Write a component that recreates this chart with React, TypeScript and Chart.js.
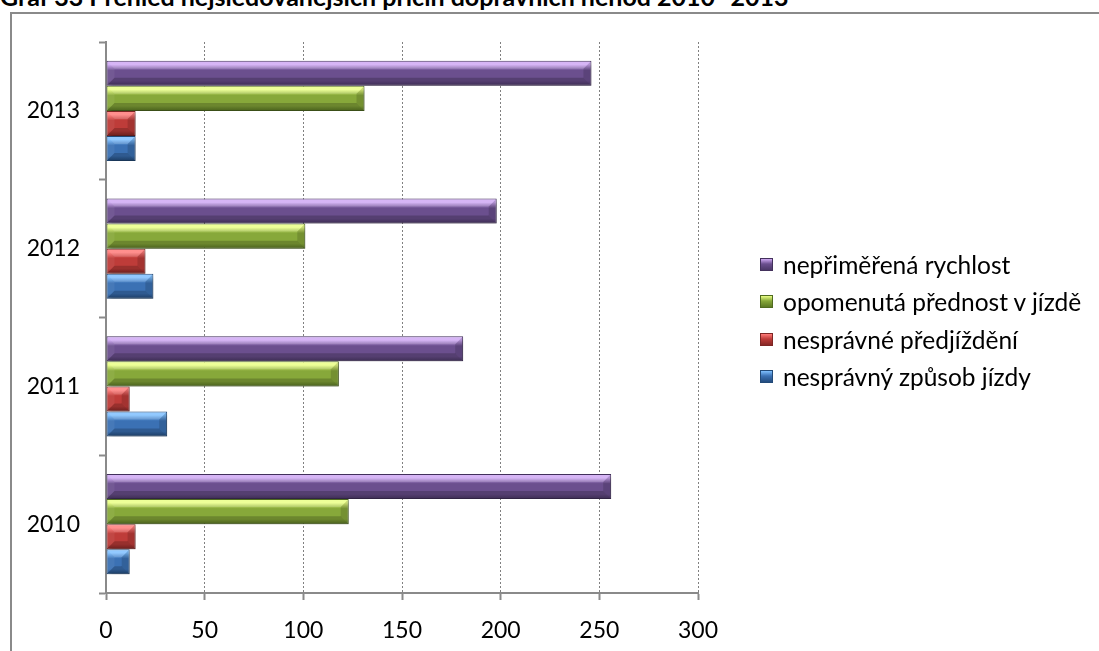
import React, { useEffect, useRef } from 'react';
import { Chart, registerables } from 'chart.js';

Chart.register(...registerables);

const TITLE = 'Graf 33 Přehled nejsledovanějších příčin dopravních nehod 2010 -2013';
const years = ['2010', '2011', '2012', '2013'];
// series in Excel order (first = bottom bar of each group)
const seriesNames = [
  'nesprávný způsob jízdy',
  'nesprávné předjíždění',
  'opomenutá přednost v jízdě',
  'nepřiměřená rychlost',
];
const nespravnyZpusobJizdy = [12, 31, 24, 15];
const nespravnePredjizdeni = [15, 12, 20, 15];
const opomenutaPrednost = [123, 118, 101, 131];
const neprimerenaRychlost = [256, 181, 198, 246];
const seriesValues = [nespravnyZpusobJizdy, nespravnePredjizdeni, opomenutaPrednost, neprimerenaRychlost];
const xMin = 0;
const xMax = 300;
const xStep = 50;

const palette = [
  { light: '#7fc0ff', main: '#3b71b4', dark: '#234c7e', border: '#224a78' },
  { light: '#ff7c7a', main: '#be3c39', dark: '#872725', border: '#7e2624' },
  { light: '#eaff86', main: '#87a83a', dark: '#5c7a24', border: '#506b20' },
  { light: '#cfa9f4', main: '#6b4f8e', dark: '#4c3868', border: '#43315c' },
];

const FONT = 'Lato, "Open Sans", sans-serif';

const bevelPlugin = {
  id: 'bevel',
  beforeDatasetsDraw(chart: any) {
    const ctx = chart.ctx;
    chart.data.datasets.forEach((ds: any, di: number) => {
      const meta = chart.getDatasetMeta(di);
      const pal = ds._pal;
      meta.data.forEach((el: any) => {
        const { y, height } = el.getProps(['y', 'height'], true);
        const g = ctx.createLinearGradient(0, y - height / 2, 0, y + height / 2);
        g.addColorStop(0, pal.light);
        g.addColorStop(0.15, pal.light);
        g.addColorStop(0.38, pal.main);
        g.addColorStop(0.8, pal.main);
        g.addColorStop(1, pal.dark);
        el.options = Object.assign({}, el.options, { backgroundColor: g });
      });
    });
    ctx.save();
    ctx.shadowColor = 'rgba(0,0,0,0.3)';
    ctx.shadowBlur = 4;
    ctx.shadowOffsetX = 2;
    ctx.shadowOffsetY = 3;
  },
  afterDatasetsDraw(chart: any) {
    const ctx = chart.ctx;
    ctx.restore();
    const area = chart.chartArea;
    ctx.save();
    ctx.beginPath();
    ctx.rect(area.left, area.top, area.right - area.left, area.bottom - area.top);
    ctx.clip();
    chart.data.datasets.forEach((ds: any, di: number) => {
      const meta = chart.getDatasetMeta(di);
      meta.data.forEach((el: any) => {
        const { x, y, base, height } = el.getProps(['x', 'y', 'base', 'height'], true);
        const x0 = Math.min(base, x) + 1;
        const x1 = Math.max(base, x) - 1;
        const y0 = y - height / 2 + 1;
        const y1 = y + height / 2 - 1;
        const b = Math.min(7, (x1 - x0) / 2, (y1 - y0) / 2);
        const poly = (pts: number[][], fill: string) => {
          ctx.beginPath();
          ctx.moveTo(pts[0][0], pts[0][1]);
          for (let i = 1; i < pts.length; i++) ctx.lineTo(pts[i][0], pts[i][1]);
          ctx.closePath();
          ctx.fillStyle = fill;
          ctx.fill();
        };
        poly([[x0, y0], [x1, y0], [x1 - b, y0 + b], [x0 + b, y0 + b]], 'rgba(255,255,255,0.15)');
        poly([[x0, y1], [x1, y1], [x1 - b, y1 - b], [x0 + b, y1 - b]], 'rgba(0,0,0,0.2)');
        poly([[x1, y0], [x1, y1], [x1 - b, y1 - b], [x1 - b, y0 + b]], 'rgba(0,0,0,0.14)');
        poly([[x0, y0], [x0, y1], [x0 + b, y1 - b], [x0 + b, y0 + b]], 'rgba(255,255,255,0.06)');
      });
    });
    ctx.restore();
  },
};

export default function App() {
  const canvasRef = useRef<HTMLCanvasElement | null>(null);

  useEffect(() => {
    const canvas = canvasRef.current;
    if (!canvas) return;
    // top-to-bottom display order: 2013 first, purple first
    const labels = [...years].reverse();
    const order = [3, 2, 1, 0];
    const datasets = order.map((si) => ({
      label: seriesNames[si],
      data: [...seriesValues[si]].reverse(),
      backgroundColor: palette[si].main,
      borderColor: palette[si].border,
      borderWidth: 1,
      borderSkipped: false,
      _pal: palette[si],
    }));
    const chart = new Chart(canvas, {
      type: 'bar',
      data: { labels, datasets: datasets as any },
      plugins: [bevelPlugin as any],
      options: {
        indexAxis: 'y',
        responsive: false,
        animation: false,
        devicePixelRatio: 1,
        layout: { padding: { left: 0, top: 42, right: 401, bottom: 0 } },
        datasets: { bar: { categoryPercentage: 0.726, barPercentage: 1 } },
        plugins: {
          legend: { display: false },
          tooltip: { enabled: false },
          title: { display: false },
        },
        scales: {
          x: {
            type: 'linear',
            min: xMin,
            max: xMax,
            afterFit: (scale: any) => {
              scale.height = 58;
            },
            ticks: {
              stepSize: xStep,
              color: '#000',
              padding: 17,
              font: { family: FONT, size: 23 },
            },
            grid: {
              color: '#808080',
              lineWidth: 1,
              tickColor: '#8a8a8a',
              tickWidth: 2,
              tickLength: 7,
              tickBorderDash: [],
            },
            border: { display: true, color: '#8a8a8a', width: 2, dash: [2, 2] },
          },
          y: {
            type: 'category',
            offset: true,
            afterFit: (scale: any) => {
              scale.width = 106;
            },
            ticks: {
              color: '#000',
              padding: 19,
              font: { family: FONT, size: 23 },
            },
            grid: {
              offset: true,
              drawOnChartArea: false,
              drawTicks: true,
              tickLength: 7,
              tickColor: '#8a8a8a',
              tickWidth: 2,
              color: '#8a8a8a',
            },
            border: { display: true, color: '#8a8a8a', width: 2 },
          },
        },
      } as any,
    });
    return () => chart.destroy();
  }, []);

  const legendOrder = [3, 2, 1, 0];

  return (
    <div
      style={{
        position: 'fixed',
        left: 0,
        top: 0,
        width: 1099,
        height: 651,
        overflow: 'hidden',
        background: '#fff',
        fontFamily: FONT,
      }}
    >
      <div
        style={{
          position: 'absolute',
          left: 10,
          top: 12,
          width: 1200,
          height: 800,
          border: '2px solid #8a8a8a',
          boxSizing: 'border-box',
        }}
      />
      <div
        style={{
          position: 'absolute',
          left: 0,
          top: -16,
          fontSize: 25,
          lineHeight: '25px',
          fontWeight: 'bold',
          whiteSpace: 'nowrap',
          color: '#000',
        }}
      >
        {TITLE}
      </div>
      <canvas
        ref={canvasRef}
        width={1099}
        height={651}
        style={{ position: 'absolute', left: 0, top: 0, width: 1099, height: 651 }}
      />
      {legendOrder.map((si, i) => (
        <div
          key={si}
          style={{
            position: 'absolute',
            left: 760,
            top: 264 + i * 37.5 - 15,
            height: 30,
            display: 'flex',
            alignItems: 'center',
            whiteSpace: 'nowrap',
            fontSize: 24.5,
            color: '#000',
          }}
        >
          <span
            style={{
              display: 'inline-block',
              width: 13,
              height: 13,
              marginRight: 10,
              boxSizing: 'border-box',
              border: `1px solid ${palette[si].border}`,
              background: `linear-gradient(to bottom, ${palette[si].light} 0%, ${palette[si].main} 45%, ${palette[si].dark} 100%)`,
            }}
          />
          <span>{seriesNames[si]}</span>
        </div>
      ))}
    </div>
  );
}
